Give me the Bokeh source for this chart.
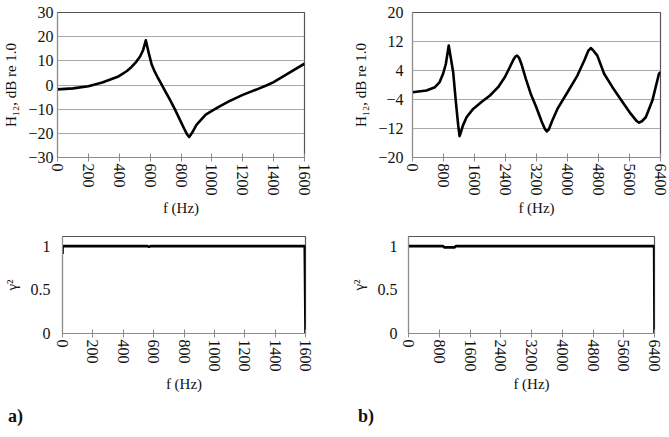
from bokeh.plotting import figure
from bokeh.layouts import column, row
from bokeh.models import FixedTicker, Div
from bokeh.embed import file_html
from bokeh.resources import INLINE

# ---- data ----
# panel a) top: H12 (dB) vs frequency (Hz), 0-1600 Hz
fa = [0, 100, 200, 290, 390, 450, 480, 510, 535, 555, 572, 590, 610, 630, 650,
      674, 700, 730, 760, 790, 820, 840, 853, 870, 900, 960, 1030, 1110, 1200,
      1300, 1360, 1400, 1500, 1600]
ha = [-1.8, -1.4, -0.5, 1.0, 3.4, 5.8, 7.5, 9.6, 11.8, 14.5, 18.5, 13.5, 8.5,
      5.5, 3.0, 0.3, -2.8, -6.3, -10.0, -14.0, -18.0, -20.5, -21.5, -20.0,
      -16.5, -12.3, -9.6, -6.8, -4.1, -1.6, 0.0, 1.2, 5.0, 8.8]

# panel b) top: H12 (dB) vs frequency (Hz), 0-6400 Hz
fb = [0, 360, 580, 700, 790, 860, 900, 935, 980, 1050, 1120, 1180, 1215, 1250,
      1300, 1395, 1565, 1780, 2000, 2210, 2385, 2510, 2615, 2660, 2700, 2750,
      2810, 2925, 3050, 3190, 3330, 3420, 3466, 3520, 3600, 3740, 4000, 4255,
      4430, 4540, 4600, 4660, 4770, 4945, 5160, 5420, 5630, 5780, 5847, 5920,
      6020, 6190, 6360, 6400]
hb = [-2.0, -1.5, -0.6, 0.8, 3.1, 5.8, 8.5, 10.9, 8.0, 3.5, -4.7, -11.2,
      -14.1, -13.0, -11.2, -8.9, -6.6, -4.7, -2.9, -0.6, 2.2, 4.9, 7.2, 7.9,
      8.1, 7.5, 5.8, 1.7, -2.4, -6.0, -10.0, -12.2, -12.8, -12.2, -10.0, -6.6,
      -2.0, 2.6, 6.7, 9.5, 10.2, 9.6, 8.1, 3.1, -0.6, -4.7, -7.9, -9.9, -10.4,
      -10.0, -8.9, -4.3, 3.1, 3.5]

# coherence panels
fca = [0, 0.5, 8, 560, 570, 580, 1595, 1600]
ca = [0.91, 0.995, 1.0, 1.0, 0.99, 1.0, 1.0, 0.0]
fcb = [0, 900, 930, 1200, 1230, 6390, 6400]
cb = [1.0, 1.0, 0.985, 0.985, 1.0, 1.0, 0.0]

xticks_a = [0, 200, 400, 600, 800, 1000, 1200, 1400, 1600]
xticks_b = [0, 800, 1600, 2400, 3200, 4000, 4800, 5600, 6400]
yticks_a = [-30, -20, -10, 0, 10, 20, 30]
yticks_b = [-20, -12, -4, 4, 12, 20]
yticks_c = [0, 0.5, 1]

FONT = "'Liberation Serif', 'Times New Roman', serif"
GRAY = "#8c8c8c"


def style(p, xt, yt, grid, ylabel, ystand, lab_stand):
    p.xaxis.ticker = FixedTicker(ticks=xt)
    p.yaxis.ticker = FixedTicker(ticks=yt)
    p.xaxis.major_label_orientation = "vertical"
    p.xaxis.axis_label = "f (Hz)"
    p.yaxis.axis_label = ylabel
    for ax in (p.xaxis, p.yaxis):
        ax.axis_label_text_font = FONT
        ax.axis_label_text_font_style = "normal"
        ax.axis_label_text_font_size = "15px"
        ax.axis_label_text_color = "#111111"
        ax.major_label_text_font = FONT
        ax.major_label_text_font_size = "16px"
        ax.major_label_text_color = "#111111"
        ax.axis_line_color = GRAY
        ax.major_tick_line_color = GRAY
        ax.minor_tick_line_color = None
    p.xaxis.major_tick_in = 4
    p.xaxis.major_tick_out = 4
    p.xaxis.major_label_standoff = 2
    p.xaxis.axis_label_standoff = 1
    p.yaxis.major_tick_in = 0
    p.yaxis.major_tick_out = 0
    p.yaxis.major_label_standoff = ystand
    p.yaxis.axis_label_standoff = lab_stand
    p.xgrid.grid_line_color = None
    if grid:
        p.ygrid.grid_line_color = "#a8a8a8"
        p.ygrid.grid_line_width = 1.2
    else:
        p.ygrid.grid_line_color = None
    p.outline_line_color = "#555555"
    p.outline_line_width = 1.2
    p.background_fill_color = "white"
    p.border_fill_color = "white"


def make(w, h, xr, yr, bl, br, bt, bb):
    return figure(width=w, height=h, x_range=xr, y_range=yr,
                  min_border_left=bl, min_border_right=br,
                  min_border_top=bt, min_border_bottom=bb,
                  output_backend="svg", toolbar_location=None)


p1 = make(330, 220, (0, 1600), (-30, 30), 56, 26, 12, 63)
p1.line(fa, ha, line_color="black", line_width=2.6, line_join="round")
style(p1, xticks_a, yticks_a, True, "H₁₂, dB re 1.0", 4, 6)

p2 = make(339, 220, (0, 6400), (-20, 20), 82, 9, 12, 63)
p2.line(fb, hb, line_color="black", line_width=2.6, line_join="round")
style(p2, xticks_b, yticks_b, True, "H₁₂, dB re 1.0", 9, 6)

p3 = make(330, 180, (0, 1600), (0, 1.11), 62, 25, 16, 67)
p3.line(fca, ca, line_color="black", line_width=2.6)
style(p3, xticks_a, yticks_c, False, "γ²", 12, 8)

p4 = make(339, 180, (0, 6400), (0, 1.11), 78, 15, 16, 67)
p4.line(fcb, cb, line_color="black", line_width=2.6)
style(p4, xticks_b, yticks_c, False, "γ²", 11, 8)

lab_style = {"font-family": FONT, "font-weight": "bold", "font-size": "18px",
             "color": "#111111"}
da = Div(text="a)", width=330, height=37, margin=(0, 0, 0, 0),
         styles=dict(lab_style, **{"padding-left": "8px", "padding-top": "4px"}))
db = Div(text="b)", width=339, height=37, margin=(0, 0, 0, 0),
         styles=dict(lab_style, **{"padding-left": "28px", "padding-top": "4px"}))

layout = column(row(p1, p2, spacing=0), row(p3, p4, spacing=0), row(da, db, spacing=0),
                spacing=0)

open("out.html", "w").write(file_html(layout, INLINE))
